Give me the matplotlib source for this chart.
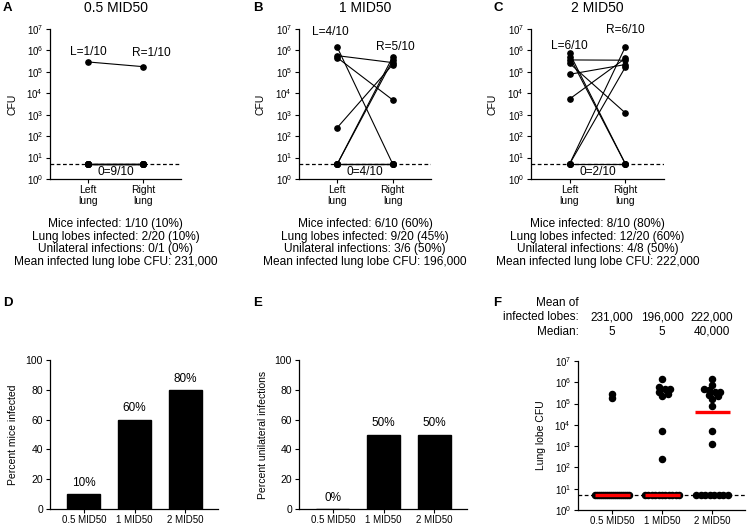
#!/usr/bin/env python3
"""
Lung lobe CFU after intranasal challenge at three doses.

Panels A-C: paired left / right lung CFU per mouse.
Panels D-E: percent of mice infected / unilateral infections.
Panel F: all lung lobe CFU per dose with medians.
"""

import numpy as np
import matplotlib
matplotlib.use('Agg')
import matplotlib.pyplot as plt
from matplotlib import ticker
from matplotlib.transforms import blended_transform_factory

plt.rcParams['font.family'] = ['Liberation Sans', 'DejaVu Sans']
plt.rcParams['mathtext.fontset'] = 'custom'
plt.rcParams['mathtext.rm'] = 'Liberation Sans'
plt.rcParams['mathtext.it'] = 'Liberation Sans:italic'
plt.rcParams['mathtext.bf'] = 'Liberation Sans:bold'

# ---------------------------------------------------------------------------
# Data
# ---------------------------------------------------------------------------
doses = ['0.5 MID50', '1 MID50', '2 MID50']
lungs = ['Left\nlung', 'Right\nlung']
LOD = 5  # plotted value for 0 CFU
n_mice = 10

# one entry per mouse, left and right lung
left_05 = [2.9e5, 5, 5, 5, 5, 5, 5, 5, 5, 5]
right_05 = [1.75e5, 5, 5, 5, 5, 5, 5, 5, 5, 5]

left_1 = [1.4e6, 5.7e5, 4.6e5, 250, 5, 5, 5, 5, 5, 5]
right_1 = [5, 2.7e5, 4900, 2.2e5, 5e5, 3.5e5, 5, 5, 5, 5]

left_2 = [7.4e5, 5.1e5, 3.6e5, 2.5e5, 7.7e4, 5400, 5, 5, 5, 5]
right_2 = [5, 5, 3.5e5, 1200, 2.2e5, 4.3e5, 1.5e6, 1.7e5, 5, 5]

stats_05 = ['Mice infected: 1/10 (10%)',
            'Lung lobes infected: 2/20 (10%)',
            'Unilateral infections: 0/1 (0%)',
            'Mean infected lung lobe CFU: 231,000']
stats_1 = ['Mice infected: 6/10 (60%)',
           'Lung lobes infected: 9/20 (45%)',
           'Unilateral infections: 3/6 (50%)',
           'Mean infected lung lobe CFU: 196,000']
stats_2 = ['Mice infected: 8/10 (80%)',
           'Lung lobes infected: 12/20 (60%)',
           'Unilateral infections: 4/8 (50%)',
           'Mean infected lung lobe CFU: 222,000']

pct_mice_infected = [10, 60, 80]
pct_unilateral = [0, 50, 50]

mean_infected_labels = ['231,000', '196,000', '222,000']
median_labels = ['5', '5', '40,000']

W, H = 747, 525


def px_rect(x0, x1, y_top, y_bot):
    """Axes rectangle from pixel coordinates of the reference."""
    return [x0 / W, 1 - y_bot / H, (x1 - x0) / W, (y_bot - y_top) / H]


def log_axis(ax):
    ax.set_yscale('log')
    ax.set_ylim(1, 1e7)
    ax.set_yticks([10 ** k for k in range(8)])
    ax.yaxis.set_minor_locator(ticker.NullLocator())
    ax.yaxis.set_major_formatter(ticker.FuncFormatter(
        lambda v, p: r'$10^{%d}$' % int(round(np.log10(v)))))
    ax.tick_params(axis='y', labelsize=7)


def style(ax):
    for s in ['top', 'right']:
        ax.spines[s].set_visible(False)
    for s in ['left', 'bottom']:
        ax.spines[s].set_linewidth(0.9)
    ax.tick_params(direction='out', length=3, width=0.8, pad=2)
    ax.tick_params(axis='x', pad=1)


def paired_panel(ax, left, right, l_pos, r_pos):
    left = np.asarray(left)
    right = np.asarray(right)
    for lv, rv in zip(left, right):
        ax.plot([0, 1], [lv, rv], '-o', color='black', lw=0.8, ms=3.8,
                zorder=3, clip_on=False)
    ax.axhline(LOD, color='black', lw=0.9, ls=(0, (3, 2)), zorder=2)
    style(ax)
    log_axis(ax)
    ax.set_xlim(-0.69, 1.69)
    ax.set_xticks([0, 1])
    ax.set_xticklabels(lungs, fontsize=7.5, linespacing=1.15)
    ax.set_ylabel('CFU', fontsize=7.5)
    ax.yaxis.set_label_coords(-0.25, 0.5)

    n_left = int(np.sum(left > LOD))
    n_right = int(np.sum(right > LOD))
    n_zero = int(np.sum((left <= LOD) & (right <= LOD)))
    tr = blended_transform_factory(ax.transData, ax.transAxes)
    ax.text(l_pos[0], l_pos[1], f'L={n_left}/{n_mice}', transform=tr,
            ha='center', va='center', fontsize=8.6)
    ax.text(r_pos[0], r_pos[1], f'R={n_right}/{n_mice}', transform=tr,
            ha='center', va='center', fontsize=8.6)
    ax.text(0.5, 0.047, f'0={n_zero}/{n_mice}', transform=tr,
            ha='center', va='center', fontsize=8.6)


def bar_panel(ax, values, ylabel, label_x):
    x = np.arange(len(doses))
    ax.bar(x, values, width=0.65, color='black', edgecolor='black')
    for xi, v in zip(x, values):
        ax.annotate(f'{v}%', (xi, v), xytext=(0, 8), textcoords='offset points',
                    ha='center', va='center', fontsize=8.5)
    style(ax)
    ax.set_xlim(-0.67, 2.65)
    ax.set_ylim(0, 100)
    ax.set_yticks(range(0, 101, 20))
    ax.set_xticks(x)
    ax.set_xticklabels(doses, fontsize=7)
    ax.tick_params(axis='y', labelsize=7.5)
    ax.set_ylabel(ylabel, fontsize=7.5)
    ax.yaxis.set_label_coords(label_x, 0.5)


def swarm_offsets(vals, px_per_decade, px_per_unit, diam=5.6, half_max=17.0):
    """Prism-like column scatter: spread equal values, dodge close ones."""
    vals = np.asarray(vals, dtype=float)
    y = np.log10(vals) * px_per_decade
    off = np.full(len(vals), np.nan)
    uniq, counts = np.unique(vals, return_counts=True)
    for u, c in zip(uniq, counts):
        if c > 1:
            idx = np.where(vals == u)[0]
            w = min((c - 1) * diam * 0.8, 2 * half_max)
            off[idx] = np.linspace(-w / 2, w / 2, c)
    placed = list(np.where(~np.isnan(off))[0])
    for i in np.argsort(y):
        if not np.isnan(off[i]):
            continue
        cands = [0.0]
        for k in range(1, 8):
            cands += [k * diam * 0.5, -k * diam * 0.5]
        for c in cands:
            ok = all(np.hypot(c - off[j], y[i] - y[j]) >= diam * 0.8
                     for j in placed)
            if ok:
                off[i] = c
                break
        if np.isnan(off[i]):
            off[i] = 0.0
        placed.append(i)
    return off / px_per_unit


def lobe_panel(ax, groups):
    px_per_decade = 149 / 7.0
    px_per_unit = 50.0
    for k, vals in enumerate(groups):
        dx = swarm_offsets(vals, px_per_decade, px_per_unit)
        ax.plot(k + dx, vals, 'o', color='black', ms=4.4, zorder=3)
        med = np.median(vals)
        ax.plot([k - 0.35, k + 0.35], [med, med], '-', color='#ff0000',
                lw=2.4, solid_capstyle='butt', zorder=4)
    ax.axhline(LOD, color='black', lw=0.9, ls=(0, (3, 2)), zorder=2)
    style(ax)
    log_axis(ax)
    ax.set_xlim(-0.68, 2.66)
    ax.set_xticks(range(len(doses)))
    ax.set_xticklabels(doses, fontsize=7)
    ax.set_ylabel('Lung lobe CFU', fontsize=7.5)
    ax.yaxis.set_label_coords(-0.19, 0.5)


def main():
    fig = plt.figure(figsize=(W / 100, H / 100), dpi=100)

    ax_a = fig.add_axes(px_rect(50, 181, 29, 179))
    ax_b = fig.add_axes(px_rect(299, 431, 29, 179))
    ax_c = fig.add_axes(px_rect(531, 664, 29, 179))
    ax_d = fig.add_axes(px_rect(50, 218, 360, 509))
    ax_e = fig.add_axes(px_rect(299, 467, 360, 509))
    ax_f = fig.add_axes(px_rect(578, 745, 361, 510))

    paired_panel(ax_a, left_05, right_05, (0, 0.847), (1.15, 0.84))
    paired_panel(ax_b, left_1, right_1, (-0.13, 0.98), (1.04, 0.88))
    paired_panel(ax_c, left_2, right_2, (0, 0.887), (1.0, 0.993))

    # titles at the very top of the figure, centred over each panel
    for ax, title in zip((ax_a, ax_b, ax_c), doses):
        top_tr = blended_transform_factory(ax.transAxes, fig.transFigure)
        ax.text(0.5, 1 - 8 / H, title, transform=top_tr, ha='center',
                va='center', fontsize=10)

    # summary text below the paired panels
    for ax, lines in zip((ax_a, ax_b, ax_c), (stats_05, stats_1, stats_2)):
        ax.text(0.5, 1 - 218 / H, '\n'.join(lines), transform=blended_transform_factory(
            ax.transAxes, fig.transFigure), ha='center', va='top',
            fontsize=8.6, linespacing=1.08)

    bar_panel(ax_d, pct_mice_infected, 'Percent mice infected', -0.19)
    bar_panel(ax_e, pct_unilateral, 'Percent unilateral infections', -0.185)

    groups = [left_05 + right_05, left_1 + right_1, left_2 + right_2]
    lobe_panel(ax_f, groups)

    # header above panel F
    fig.text(579 / W, 1 - 303 / H, 'Mean of', ha='right', va='center', fontsize=8.5)
    fig.text(579 / W, 1 - 317 / H, 'infected lobes:', ha='right', va='center',
             fontsize=8.5)
    fig.text(579 / W, 1 - 332 / H, 'Median:', ha='right', va='center', fontsize=8.5)
    tr = blended_transform_factory(ax_f.transData, fig.transFigure)
    for k in range(len(doses)):
        ax_f.text(k, 1 - 317 / H, mean_infected_labels[k], transform=tr,
                  ha='center', va='center', fontsize=8.5)
        ax_f.text(k, 1 - 332 / H, median_labels[k], transform=tr,
                  ha='center', va='center', fontsize=8.5)

    # panel letters
    for letter, x, y in [('A', 3, 8), ('B', 253, 8), ('C', 493, 8),
                         ('D', 3, 303), ('E', 253, 303), ('F', 493, 303)]:
        fig.text(x / W, 1 - y / H, letter, ha='left', va='center',
                 fontsize=9.5, fontweight='bold')

    fig.savefig('out.png', dpi=100)


if __name__ == '__main__':
    main()
